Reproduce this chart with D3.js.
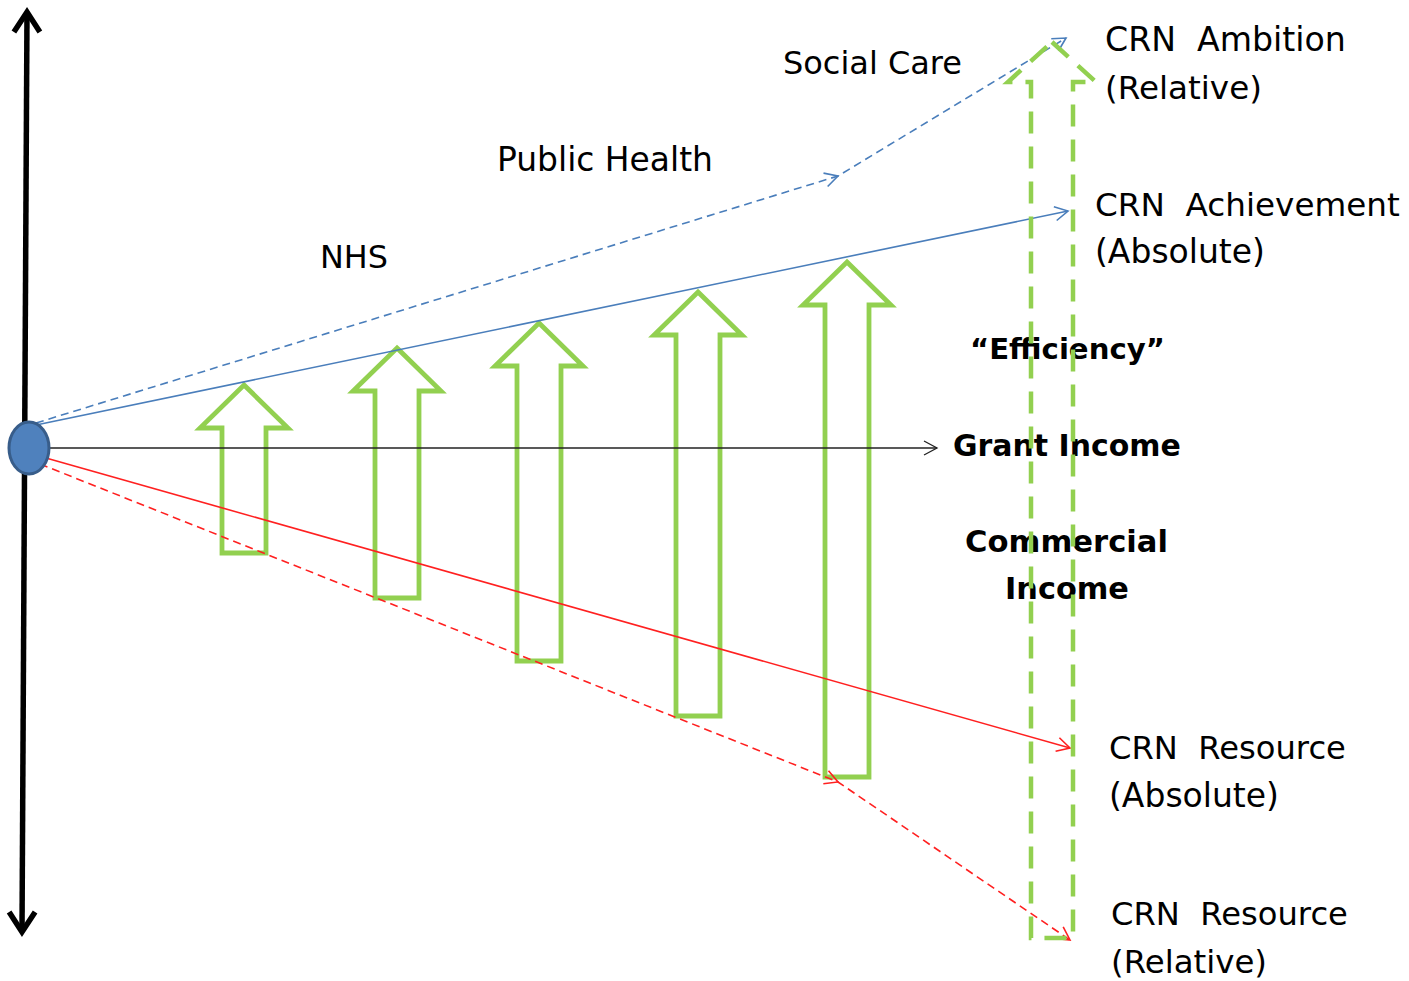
<!DOCTYPE html>
<html>
<head>
<meta charset="utf-8">
<script src="https://cdn.jsdelivr.net/npm/d3@7"></script>
<style>
  body { margin: 0; background: #fff; }
  svg { display: block; }
  text { white-space: pre; }
</style>
</head>
<body>
<div id="chart"></div>
<script>
// diagram points, in picture units
const axisLine = [[27, 12], [22, 932]];
const origin = [29, 448];
const blueDashed = [[36, 423], [838, 176], [1066, 38]];
const blueSolid = [[36, 425], [1068, 211]];
const greyLine = [[50, 448], [937, 448]];
const redSolid = [[46, 458], [1070, 748]];
const redDashed = [[40, 464], [838, 782], [1070, 940]];

// green block arrows: centre, tip, bottom
const arrowX = [244, 397, 539, 698, 847];
const arrowTop = [385, 348, 323, 292, 262];
const arrowBottom = [553, 598, 661, 716, 777];

// big dashed arrow
const bigArrow = { x: 1052, top: 42, bottom: 938 };

const labelText = [
  "Social Care", "Public Health", "NHS",
  "CRN  Ambition", "(Relative)",
  "CRN  Achievement", "(Absolute)",
  "\u201CEfficiency\u201D", "Grant Income", "Commercial", "Income",
  "CRN  Resource", "(Absolute)",
  "CRN  Resource", "(Relative)"
];
const labelX = [783, 497, 320, 1105, 1105, 1095, 1095, 970, 953, 965, 1005, 1109, 1109, 1111, 1111];
const labelY = [74, 171, 268, 51, 99, 216, 263, 359, 456, 552, 599, 759, 807, 925, 973];
const labelW = [179, 216, 68, 241, 157, 305, 170, 195, 228, 203, 124, 237, 170, 237, 156];
const labelBold = [0, 0, 0, 0, 0, 0, 0, 1, 1, 1, 1, 0, 0, 0, 0];

const color = {
  blue: '#4a7ebb',
  red: '#ff2020',
  green: '#92d050',
  dot: '#4f81bd',
  dotEdge: '#385d8a'
};

const width = 1409, height = 981;
const x = d3.scaleLinear().domain([0, 1409]).range([0, width]);
const y = d3.scaleLinear().domain([0, 981]).range([0, height]);
const line = d3.line().x(d => x(d[0])).y(d => y(d[1]));

const svg = d3.select('#chart').append('svg')
  .attr('width', width)
  .attr('height', height);

// open chevron at p1 pointing away from p0
function head(g, p0, p1, len, half, stroke, sw) {
  const a = Math.atan2(y(p1[1]) - y(p0[1]), x(p1[0]) - x(p0[0]));
  const tx = x(p1[0]), ty = y(p1[1]);
  const pts = [-1, 1].map(s => [
    tx - len * Math.cos(a) + s * half * Math.sin(a),
    ty - len * Math.sin(a) - s * half * Math.cos(a)
  ]);
  g.append('path')
    .attr('d', `M${pts[0]}L${tx},${ty}L${pts[1]}`)
    .attr('fill', 'none')
    .attr('stroke', stroke)
    .attr('stroke-width', sw)
    .attr('stroke-linejoin', 'miter');
}

// green block arrows
const blocks = svg.append('g');
arrowX.forEach((cx, i) => {
  const t = arrowTop[i], b = arrowBottom[i];
  const hb = t + 43;
  const pts = [[cx, t], [cx + 44, hb], [cx + 22, hb], [cx + 22, b], [cx - 22, b], [cx - 22, hb], [cx - 44, hb]];
  blocks.append('path')
    .attr('d', line(pts) + 'Z')
    .attr('fill', 'none')
    .attr('stroke', color.green)
    .attr('stroke-width', 4.8);
});

// lines
const lines = svg.append('g');
lines.append('path').attr('d', line(greyLine)).attr('stroke', '#222').attr('stroke-width', 1.3).attr('fill', 'none');
head(lines, greyLine[0], greyLine[1], 13, 7, '#222', 1.3);

lines.append('path').attr('d', line(blueSolid)).attr('stroke', color.blue).attr('stroke-width', 1.6).attr('fill', 'none');
head(lines, blueSolid[0], blueSolid[1], 13, 7, color.blue, 1.6);

lines.append('path').attr('d', line(blueDashed)).attr('stroke', color.blue).attr('stroke-width', 1.6)
  .attr('stroke-dasharray', '8,5').attr('fill', 'none');
head(lines, blueDashed[0], blueDashed[1], 13, 7, color.blue, 1.6);
head(lines, blueDashed[1], blueDashed[2], 13, 7, color.blue, 1.6);

lines.append('path').attr('d', line(redSolid)).attr('stroke', color.red).attr('stroke-width', 1.6).attr('fill', 'none');
head(lines, redSolid[0], redSolid[1], 13, 7, color.red, 1.6);

lines.append('path').attr('d', line(redDashed)).attr('stroke', color.red).attr('stroke-width', 1.6)
  .attr('stroke-dasharray', '8,5').attr('fill', 'none');
head(lines, redDashed[0], redDashed[1], 13, 7, color.red, 1.6);
head(lines, redDashed[1], redDashed[2], 13, 7, color.red, 1.6);

// vertical axis
const axis = svg.append('g');
axis.append('path').attr('d', line(axisLine)).attr('stroke', '#000').attr('stroke-width', 5.5).attr('fill', 'none');
head(axis, axisLine[1], axisLine[0], 20, 13, '#000', 5.5);
head(axis, axisLine[0], axisLine[1], 20, 13, '#000', 5.5);

// origin dot
svg.append('ellipse')
  .attr('cx', x(origin[0])).attr('cy', y(origin[1]))
  .attr('rx', 20).attr('ry', 26)
  .attr('fill', color.dot)
  .attr('stroke', color.dotEdge)
  .attr('stroke-width', 3);

// labels, sized to the width they take in the picture
const labels = svg.append('g');
labelText.forEach((t, i) => {
  const el = labels.append('text')
    .attr('x', x(labelX[i]))
    .attr('y', y(labelY[i]))
    .attr('font-family', 'DejaVu Sans, sans-serif')
    .attr('font-weight', labelBold[i] ? 'bold' : 'normal')
    .attr('font-size', 30)
    .attr('fill', '#000')
    .text(t);
  const w = el.node().getComputedTextLength();
  el.attr('font-size', 30 * labelW[i] / w);
});

// big dashed green arrow, over the text
const b = bigArrow;
const hb = b.top + 40;
const bigPts = [[b.x, b.top], [b.x + 44, hb], [b.x + 21, hb], [b.x + 21, b.bottom], [b.x - 21, b.bottom], [b.x - 21, hb], [b.x - 44, hb]];
svg.append('path')
  .attr('d', line(bigPts) + 'Z')
  .attr('fill', 'none')
  .attr('stroke', color.green)
  .attr('stroke-width', 4.5)
  .attr('stroke-dasharray', '22,13');
</script>
</body>
</html>
